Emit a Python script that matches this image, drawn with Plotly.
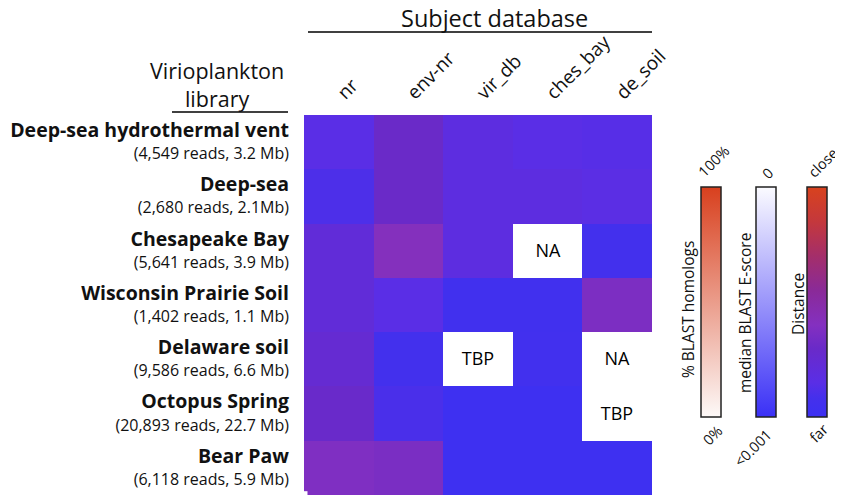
import plotly.graph_objects as go
import numpy as np

# ---- data ----
databases = ["nr", "env-nr", "vir_db", "ches_bay", "de_soil"]
libraries = ["Deep-sea hydrothermal vent", "Deep-sea", "Chesapeake Bay",
             "Wisconsin Prairie Soil", "Delaware soil", "Octopus Spring", "Bear Paw"]
library_info = ["(4,549 reads, 3.2 Mb)", "(2,680 reads, 2.1Mb)", "(5,641 reads, 3.9 Mb)",
                "(1,402 reads, 1.1 Mb)", "(9,586 reads, 6.6 Mb)", "(20,893 reads, 22.7 Mb)",
                "(6,118 reads, 5.9 Mb)"]
NaN = None
# distance index (0 = far, 1 = close)
distance = [
    [0.15, 0.30, 0.18, 0.15, 0.14],
    [0.11, 0.30, 0.18, 0.18, 0.16],
    [0.22, 0.41, 0.18, NaN, 0.07],
    [0.22, 0.15, 0.05, 0.05, 0.37],
    [0.25, 0.07, NaN, 0.06, NaN],
    [0.29, 0.10, 0.02, 0.02, NaN],
    [0.38, 0.36, 0.02, 0.02, 0.02],
]
cell_notes = [
    ["", "", "", "", ""],
    ["", "", "", "", ""],
    ["", "", "", "NA", ""],
    ["", "", "", "", ""],
    ["", "", "TBP", "", "NA"],
    ["", "", "", "", "TBP"],
    ["", "", "", "", ""],
]
legend_titles = ["% BLAST homologs", "median BLAST E-score", "Distance"]
legend_top = ["100%", "0", "close"]
legend_bottom = ["0%", "<0.001", "far"]

# ---- styles ----
FONT = "Open Sans"
W, H = 843, 495
OFF = 8  # page body margin offset
L, R, T, B = 304 - OFF, 652 - OFF, 115 - OFF, 495 - OFF

distance_scale = [[0.0, "#3c30f2"], [0.08, "#4430ec"], [0.15, "#5a2ee6"], [0.3, "#6a2ac8"],
                  [0.4, "#8430c0"], [0.55, "#8a2a98"], [0.7, "#a42e6a"],
                  [0.85, "#c4383c"], [1.0, "#d8421e"]]
homolog_scale = [[0.0, "#fdf9f8"], [1.0, "#d8401e"]]
escore_scale = [[0.0, "#3a30f6"], [1.0, "#fbfbff"]]


def px(x):
    return (x - OFF - L) / (R - L)


def py(y):
    return 1 - (y - OFF - T) / (B - T)


z = np.array([[np.nan if v is None else v for v in row] for row in distance])
ylabels = [f"<span style='font-size:19.5px'><b>{n}</b></span><br>"
           f"<span style='font-size:16px'>{i}</span>"
           for n, i in zip(libraries, library_info)]

fig = go.Figure()
fig.add_trace(go.Heatmap(
    z=z, x=databases, y=libraries, text=cell_notes, texttemplate="%{text}",
    textfont=dict(size=18, color="black", family=FONT),
    colorscale=distance_scale, zmin=0, zmax=1, showscale=False, hoverinfo="skip",
))

bar_x = [701, 756, 807]
scales = [homolog_scale, escore_scale, distance_scale]
for k in range(3):
    fig.add_trace(go.Scatter(
        x=[0], y=[0], mode="markers", xaxis="x2", yaxis="y2", hoverinfo="skip",
        showlegend=False,
        marker=dict(size=1, opacity=0, color=[0], cmin=0, cmax=1, colorscale=scales[k],
                    showscale=True,
                    colorbar=dict(x=px(bar_x[k]), xanchor="left", y=py(302), yanchor="middle",
                                  lenmode="fraction", len=230 / (B - T), thickness=20,
                                  xpad=0, ypad=0,
                                  outlinewidth=1.5, outlinecolor="#222",
                                  showticklabels=False, ticks="")),
    ))

title_pos = [(688, 310), (745, 313), (798, 304)]
top_pos = [(713, 161), (767, 173), (823, 163)]
bot_pos = [(712, 435), (752, 448), (818, 433)]
ann = []
for k in range(3):
    ann.append(dict(x=px(title_pos[k][0]), y=py(title_pos[k][1]), text=legend_titles[k],
                    textangle=-90, font=dict(size=15.5, family=FONT, color="#111")))
    ann.append(dict(x=px(top_pos[k][0]), y=py(top_pos[k][1]), text=legend_top[k],
                    textangle=-45, font=dict(size=14.5, family=FONT, color="#111")))
    ann.append(dict(x=px(bot_pos[k][0]), y=py(bot_pos[k][1]), text=legend_bottom[k],
                    textangle=-45, font=dict(size=14.5, family=FONT, color="#111")))
ann.append(dict(x=px(494), y=py(18), text="Subject database",
                font=dict(size=23.5, family=FONT, color="#111")))
ann.append(dict(x=px(217), y=py(84), text="Virioplankton<br>library", align="center",
                font=dict(size=21.5, family=FONT, color="#111")))
for a in ann:
    a.update(xref="paper", yref="paper", showarrow=False, xanchor="center", yanchor="middle")

shapes = [
    dict(type="line", xref="paper", yref="paper", x0=px(308), x1=px(652), y0=py(32), y1=py(32),
         line=dict(color="black", width=1.5)),
    dict(type="line", xref="paper", yref="paper", x0=px(172), x1=px(288), y0=py(112), y1=py(112),
         line=dict(color="black", width=1.5)),
]

fig.update_layout(
    width=W, height=H, margin=dict(l=L, r=W - R, t=T, b=H - B, pad=0, autoexpand=False),
    paper_bgcolor="white", plot_bgcolor="white",
    font=dict(family=FONT, color="#111"),
    xaxis=dict(side="top", tickangle=-45, tickfont=dict(size=19, family=FONT),
               showgrid=False, zeroline=False, ticks="", ticklabelstandoff=7,
               automargin=False, domain=[0, 1]),
    yaxis=dict(autorange="reversed", tickvals=libraries, ticktext=ylabels,
               tickfont=dict(size=17, family=FONT), showgrid=False, zeroline=False,
               ticks="", ticklabelstandoff=14, automargin=False),
    xaxis2=dict(domain=[0, 0.01], visible=False, anchor="y2"),
    yaxis2=dict(domain=[0, 0.01], visible=False, anchor="x2"),
    annotations=ann, shapes=shapes, showlegend=False,
)

fig.write_html("out.html")
